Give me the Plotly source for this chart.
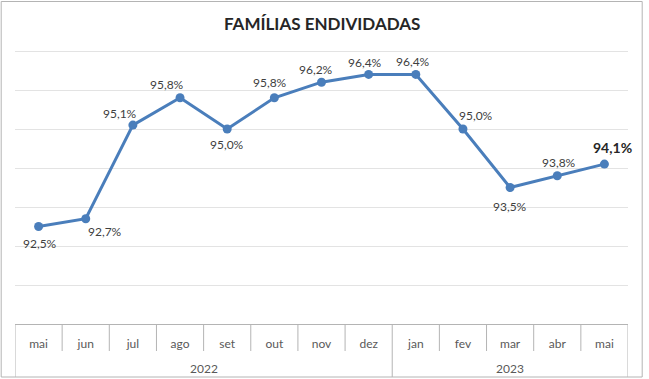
import plotly.graph_objects as go

# ---- data ----
months = ["mai", "jun", "jul", "ago", "set", "out", "nov", "dez", "jan", "fev", "mar", "abr", "mai"]
years = ["2022", "2023"]
year_counts = [8, 5]
values = [92.5, 92.7, 95.1, 95.8, 95.0, 95.8, 96.2, 96.4, 96.4, 95.0, 93.5, 93.8, 94.1]
labels = ["92,5%", "92,7%", "95,1%", "95,8%", "95,0%", "95,8%", "96,2%", "96,4%", "96,4%",
          "95,0%", "93,5%", "93,8%", "94,1%"]
y_min, y_max = 90, 97

# ---- style ----
W, H = 649, 379
PX_PER_UNIT = 39.0
TOP_PAD = 2  # px of plot area above the top gridline
L, R, B = 15.3, 20.7, 55
T = 51 - TOP_PAD
PW, PH = W - L - R, H - T - B
y_top = y_max + TOP_PAD / PX_PER_UNIT
line_color = "#4a7ebb"
axis_gray = "#b4b4b4"
grid_gray = "#e3e3e3"
font = "Lato, Carlito, Calibri, sans-serif"
label_shift = [(1, -16.5), (19, -12.6), (-13, 11.6), (-13, 13.3), (0, -15.3), (-4, 15),
               (-6, 13), (-4, 12), (-3, 13), (13, 13.4), (0, -19), (2, 13), (8, 17)]


def px_x(p):
    return (p - L) / PW


def px_y(p):
    return (H - B - p) / PH


xs = list(range(len(months)))

fig = go.Figure()
fig.add_trace(go.Scatter(
    x=xs, y=values, mode="lines+markers",
    line=dict(color=line_color, width=3),
    marker=dict(color=line_color, size=9),
    hoverinfo="skip", showlegend=False,
))

annotations = []
for i, (v, t) in enumerate(zip(values, labels)):
    dx, dy = label_shift[i]
    last = i == len(values) - 1
    annotations.append(dict(
        x=i, y=v, xref="x", yref="y", text=f"<b>{t}</b>" if last else t,
        showarrow=False, xshift=dx, yshift=dy,
        font=dict(family=font, size=14 if last else 12, color="#262626" if last else "#404040"),
    ))

shapes = []
bottom_month = px_y(351)
bottom_all = px_y(377)
start = 0
group_edges = [-0.5]
for c in year_counts:
    start += c
    group_edges.append(start - 0.5)
for k in range(len(months) + 1):
    xe = k - 0.5
    y1 = bottom_all if xe in group_edges else bottom_month
    shapes.append(dict(type="line", xref="x", yref="paper", x0=xe, x1=xe, y0=0, y1=y1,
                       line=dict(color=axis_gray, width=1)))
start = 0
for yname, c in zip(years, year_counts):
    annotations.append(dict(
        x=start + (c - 1) / 2, y=px_y(368), xref="x", yref="paper", text=yname,
        showarrow=False, font=dict(family=font, size=12, color="#595959"),
        xanchor="center", yanchor="middle",
    ))
    start += c

shapes.append(dict(type="rect", xref="paper", yref="paper",
                   x0=px_x(1.5), x1=px_x(642.5), y0=px_y(377), y1=px_y(1.5),
                   line=dict(color=axis_gray, width=1), layer="below"))

annotations.append(dict(
    x=0.5, y=px_y(23), xref="paper", yref="paper", text="<b>FAMÍLIAS ENDIVIDADAS</b>",
    showarrow=False, xanchor="center", yanchor="middle",
    font=dict(family=font, size=17, color="#262626"),
))

fig.update_layout(
    width=W, height=H,
    margin=dict(l=L, r=R, t=T, b=B, pad=0),
    paper_bgcolor="white", plot_bgcolor="white",
    xaxis=dict(range=[-0.5, len(months) - 0.5], tickvals=xs, ticktext=months,
               ticks="outside", ticklen=9, tickcolor="rgba(0,0,0,0)",
               tickfont=dict(family=font, size=12, color="#595959"),
               showline=True, linecolor=axis_gray, linewidth=1,
               showgrid=False, zeroline=False, fixedrange=True),
    yaxis=dict(range=[y_min, y_top], tick0=y_min, dtick=1, showgrid=True,
               gridcolor=grid_gray, gridwidth=1,
               showticklabels=False, ticks="", zeroline=False, showline=False, fixedrange=True),
    annotations=annotations, shapes=shapes,
)

fig.write_html(
    "out.html",
    config={"displayModeBar": False},
    post_script="document.body.style.margin='0';document.body.style.padding='0';"
                "document.body.style.overflow='hidden';",
)
